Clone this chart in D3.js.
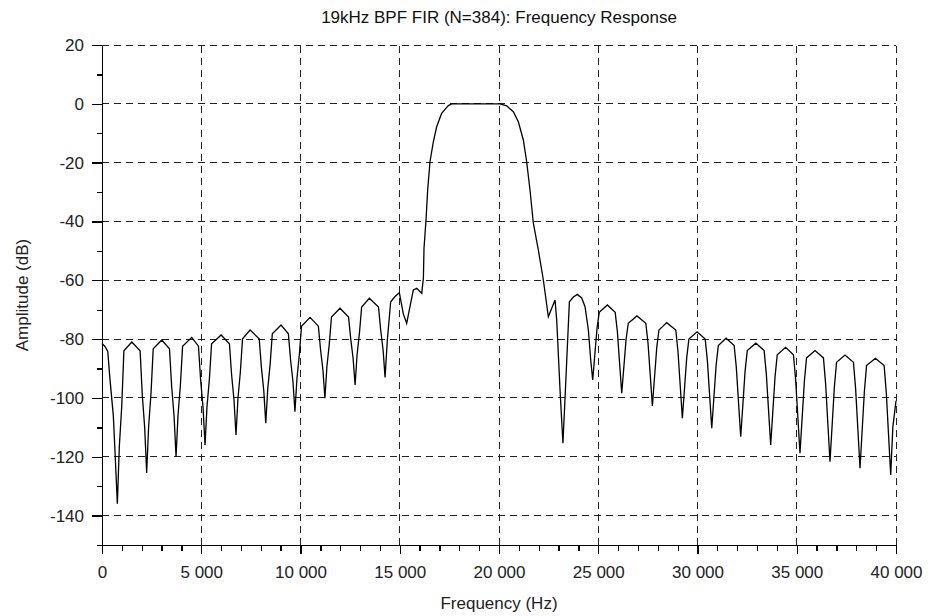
<!DOCTYPE html>
<html>
<head>
<meta charset="utf-8">
<script src="https://cdn.jsdelivr.net/npm/d3@7"></script>
<style>
    body { margin: 0; background: #fff; }
    text { font-family: "Liberation Sans", Arial, sans-serif; }
    .grid line { stroke: #222; stroke-width: 1; stroke-dasharray: 7,5; shape-rendering: crispEdges; }
    .axis path, .axis line { stroke: #000; stroke-width: 1.3; shape-rendering: crispEdges; }
    .axis text { fill: #222; font-size: 17px; }
</style>
</head>
<body>
<div id="chart"></div>
<script>
/*
* FIR band-pass response, amplitude in dB against frequency
*/

// Stopband below the pass band (Hz, dB)
var lowerStopband = [
    [0, -81.5], [150, -82.5], [290, -84.2], [400, -93.5], [570, -106], [660, -119], [773, -136],
    [873, -116.5], [993, -103], [1103, -84], [1500, -81], [1920, -84], [2030, -99], [2150, -110], [2250, -125.5],
    [2350, -109.7], [2470, -98.3], [2580, -83.3], [3010, -80.3], [3400, -83.3], [3510, -96.2], [3630, -106.1], [3730, -120],
    [3830, -105.8], [3950, -95.6], [4060, -82.4], [4520, -79.4], [4860, -82.4], [4970, -94], [5090, -103.2], [5190, -116],
    [5290, -102.9], [5410, -93.6], [5520, -81.6], [6000, -78.6], [6420, -81.6], [6530, -92.2], [6650, -100.7], [6750, -112.6],
    [6850, -100.1], [6970, -91.2], [7080, -79.9], [7460, -76.9], [7920, -79.9], [8030, -89.6], [8150, -97.5], [8250, -108.6],
    [8350, -96.9], [8470, -88.6], [8580, -78.2], [9020, -75.2], [9390, -78.2], [9500, -87], [9620, -94.4], [9720, -104.7],
    [9820, -93.5], [9940, -85.4], [10050, -75.6], [10480, -72.6], [10900, -75.6], [11010, -83.6], [11130, -90.5], [11230, -100.1],
    [11330, -89.4], [11450, -81.7], [11560, -72.5], [11990, -69.5], [12420, -72.5], [12530, -79.9], [12650, -86.5], [12750, -95.6],
    [12850, -85.3], [12970, -77.9], [13080, -69.1], [13470, -66.1], [13930, -69.1], [14040, -76.9], [14160, -83.6], [14260, -93],
    [14375, -80.3], [14543, -67.3], [14761, -65.5], [14980, -64.2], [15182, -71.5], [15350, -74.6], [15518, -68.9],
    [15685, -63.3], [15855, -62.7], [16107, -64.4]
];

// Transition bands and the flat pass band
var passBand = [
    [16190, -59.3], [16222, -49.1], [16323, -39.5], [16407, -29.3], [16524, -19.7], [16692, -12.9], [16860, -7.8],
    [17111, -3.2], [17280, -1.9], [17450, -0.6], [17616, 0], [20050, 0], [20389, -0.7], [20722, -2.7], [20974, -6.1],
    [21226, -12.3], [21394, -19.7], [21562, -29.3], [21730, -40.6], [21982, -49.7], [22234, -59.9], [22486, -72.4],
    [22823, -66.7], [22907, -73.5], [23075, -97.3]
];

// Stopband above the pass band
var upperStopband = [
    [23220, -115.4], [23330, -99.6], [23546, -67.3], [23747, -65.7], [23947, -64.8], [24166, -66], [24334, -69],
    [24502, -76.9], [24620, -87.1], [24721, -93.9],
    [24831, -85], [24941, -76.1], [25051, -70.9], [25459, -68.4], [25853, -70.9], [25963, -77.4], [26073, -87.9], [26183, -98.4],
    [26293, -89.2], [26403, -80], [26513, -74.6], [26950, -72.1], [27397, -74.6], [27507, -81.3], [27617, -92], [27727, -102.7],
    [27837, -92.8], [27947, -82.9], [28057, -76.9], [28450, -74.4], [28907, -76.9], [29017, -84.2], [29127, -95.5], [29237, -106.9],
    [29347, -96.6], [29457, -86.3], [29567, -80], [29980, -77.5], [30388, -80], [30498, -87.3], [30608, -98.8], [30718, -110.3],
    [30828, -99.6], [30938, -88.9], [31048, -82.2], [31440, -79.7], [31847, -82.2], [31957, -89.7], [32067, -101.5], [32177, -113.2],
    [32287, -102.1], [32397, -90.9], [32507, -83.9], [32940, -81.4], [33357, -83.9], [33467, -91.8], [33577, -103.9], [33687, -116],
    [33797, -104.4], [33907, -92.8], [34017, -85.3], [34440, -82.8], [34833, -85.3], [34943, -93.6], [35053, -106.2], [35163, -118.8],
    [35273, -106.6], [35383, -94.4], [35493, -86.4], [35920, -83.9], [36345, -86.4], [36455, -95.2], [36565, -108.5], [36675, -121.7],
    [36785, -109], [36895, -96.3], [37005, -87.9], [37430, -85.4], [37857, -87.9], [37967, -97], [38077, -110.4], [38187, -123.9],
    [38297, -110.8], [38407, -97.7], [38517, -89], [38960, -86.5], [39403, -89], [39513, -98.4], [39623, -112.3], [39733, -126.2],
    [39840, -110], [40000, -101]
];

// Axis ticks
var xTicks = [0, 5000, 10000, 15000, 20000, 25000, 30000, 35000, 40000];
var xMinorTicks = [1000, 2000, 3000, 4000, 6000, 7000, 8000, 9000, 11000, 12000, 13000, 14000,
    16000, 17000, 18000, 19000, 21000, 22000, 23000, 24000, 26000, 27000, 28000, 29000,
    31000, 32000, 33000, 34000, 36000, 37000, 38000, 39000];
var yTicks = [20, 0, -20, -40, -60, -80, -100, -120, -140];
var yMinorTicks = [10, -10, -30, -50, -70, -90, -110, -130, -150];

var titleText = "19kHz BPF FIR (N=384): Frequency Response";
var xLabel = "Frequency (Hz)";
var yLabel = "Amplitude (dB)";

var margin = {left: 102, top: 45},
    width = 794,
    height = 500;

var svg = d3.select("#chart")
    .append("svg")
    .attr("width", 928)
    .attr("height", 616);

var g = svg.append("g")
    .attr("transform", "translate(" + margin.left + "," + margin.top + ")");

var x = d3.scaleLinear()
    .domain([0, 40000])
    .range([0, width]);

var y = d3.scaleLinear()
    .domain([-150, 20])
    .range([height, 0]);

// "5 000" style numbers, plain hyphen for negatives
var fmt = d3.formatLocale({decimal: ".", thousands: " ", grouping: [3], currency: ["", ""], minus: "-"}).format(",d");

//Dashed grid
var grid = g.append("g").attr("class", "grid");

grid.selectAll(".vgrid")
    .data(xTicks.filter(function (d) { return d > 0; }))
    .enter()
    .append("line")
    .attr("x1", function (d) { return x(d); })
    .attr("x2", function (d) { return x(d); })
    .attr("y1", y(-150))
    .attr("y2", y(20));

grid.selectAll(".hgrid")
    .data(yTicks)
    .enter()
    .append("line")
    .attr("x1", x(0))
    .attr("x2", x(40000))
    .attr("y1", function (d) { return y(d); })
    .attr("y2", function (d) { return y(d); });

//Axes, major and minor ticks
g.append("g")
    .attr("class", "axis")
    .attr("transform", "translate(0," + height + ")")
    .call(d3.axisBottom(x).tickValues(xMinorTicks).tickSize(6).tickFormat(""))
    .select(".domain").remove();

g.append("g")
    .attr("class", "axis")
    .attr("transform", "translate(0," + height + ")")
    .call(d3.axisBottom(x).tickValues(xTicks).tickSizeInner(9).tickSizeOuter(0).tickPadding(12).tickFormat(fmt));

g.append("g")
    .attr("class", "axis")
    .call(d3.axisLeft(y).tickValues(yMinorTicks).tickSize(5).tickFormat(""))
    .select(".domain").remove();

g.append("g")
    .attr("class", "axis")
    .call(d3.axisLeft(y).tickValues(yTicks).tickSizeInner(10).tickSizeOuter(0).tickPadding(8).tickFormat(fmt));

//Response curve
var response = lowerStopband.concat(passBand, upperStopband);

var line = d3.line()
    .x(function (d) { return x(d[0]); })
    .y(function (d) { return y(d[1]); });

g.append("path")
    .datum(response)
    .attr("d", line)
    .attr("fill", "none")
    .attr("stroke", "#000")
    .attr("stroke-width", 1.3)
    .attr("stroke-linejoin", "miter");

//Titles
svg.append("text")
    .attr("x", margin.left + width / 2)
    .attr("y", 23)
    .attr("text-anchor", "middle")
    .attr("font-size", "17px")
    .attr("fill", "#111")
    .text(titleText);

svg.append("text")
    .attr("x", margin.left + width / 2)
    .attr("y", 609)
    .attr("text-anchor", "middle")
    .attr("font-size", "17px")
    .attr("fill", "#222")
    .text(xLabel);

svg.append("text")
    .attr("transform", "translate(28," + (margin.top + height / 2) + ") rotate(-90)")
    .attr("text-anchor", "middle")
    .attr("font-size", "17px")
    .attr("fill", "#222")
    .text(yLabel);
</script>
</body>
</html>
